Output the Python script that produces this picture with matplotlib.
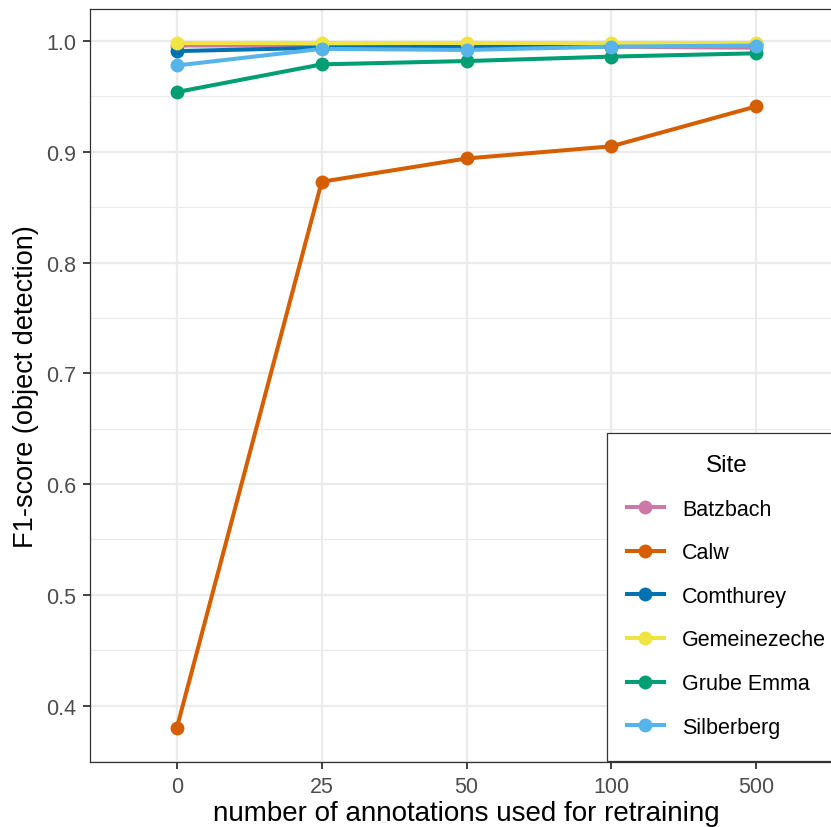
import matplotlib
matplotlib.use("Agg")
import matplotlib.pyplot as plt
from matplotlib.patches import Rectangle
from matplotlib.lines import Line2D
import numpy as np

plt.rcParams["font.family"] = ["Liberation Sans", "DejaVu Sans"]

categories = ["0", "25", "50", "100", "500"]
sites = ["Batzbach", "Calw", "Comthurey", "Gemeinezeche", "Grube Emma", "Silberberg"]
batzbach = [0.996, 0.996, 0.995, 0.995, 0.994]
calw = [0.380, 0.873, 0.894, 0.905, 0.941]
comthurey = [0.991, 0.994, 0.995, 0.996, 0.997]
gemeinezeche = [0.998, 0.998, 0.998, 0.998, 0.998]
grube_emma = [0.954, 0.979, 0.982, 0.986, 0.989]
silberberg = [0.978, 0.993, 0.992, 0.995, 0.996]
colors = ["#CC79A7", "#D55E00", "#0072B2", "#F0E442", "#009E73", "#56B4E9"]
series = [batzbach, calw, comthurey, gemeinezeche, grube_emma, silberberg]

W, H = 831, 828
fig = plt.figure(figsize=(W / 100, H / 100), dpi=100)
L, R, T, B = 90, 843, 10, 763
ax = fig.add_axes([L / W, 1 - B / H, (R - L) / W, (B - T) / H])

x = np.arange(len(categories))
for s, c in zip(series, colors):
    ax.plot(x, s, color=c, lw=2.9, zorder=3, solid_capstyle="butt")
for s, c in zip(series, colors):
    ax.plot(x, s, "o", color=c, ms=10, zorder=4, markeredgewidth=0)

ax.set_xlim(-0.6, 4.6)
ax.set_ylim(0.349, 1.029)
ax.set_xticks(x)
ax.set_xticklabels(categories)
ax.set_yticks([0.4, 0.5, 0.6, 0.7, 0.8, 0.9, 1.0])
ax.set_yticklabels(["0.4", "0.5", "0.6", "0.7", "0.8", "0.9", "1.0"])
ax.set_yticks([0.35, 0.45, 0.55, 0.65, 0.75, 0.85, 0.95], minor=True)
ax.grid(True, which="major", color="#EBEBEB", lw=1.6, zorder=0)
ax.grid(True, which="minor", axis="y", color="#EBEBEB", lw=0.8, zorder=0)
ax.set_axisbelow(True)
for sp in ax.spines.values():
    sp.set_color("#333333")
    sp.set_linewidth(0.9)
ax.tick_params(which="major", length=5, width=1.3, color="#333333",
               labelcolor="#4D4D4D", labelsize=15.5, pad=5)
ax.tick_params(which="minor", length=0)
ax.set_xlabel("number of annotations used for retraining", fontsize=20, color="black", labelpad=2.5)
ax.set_ylabel("F1-score (object detection)", fontsize=19.5, color="black", labelpad=5)

# legend box
lx0, ly0, lx1, ly1 = 607, 434, 843, 762
rect = Rectangle((lx0 / W, 1 - ly1 / H), (lx1 - lx0) / W, (ly1 - ly0) / H,
                 transform=fig.transFigure, facecolor="white", edgecolor="#333333",
                 lw=0.9, zorder=5)
fig.add_artist(rect)
handles = [Line2D([], [], color=c, lw=2.9, marker="o", ms=10, markeredgewidth=0) for c in colors]
leg = fig.legend(handles, sites, loc="upper left",
                 bbox_to_anchor=(612 / W, 1 - 440 / H), bbox_transform=fig.transFigure,
                 frameon=False, title="Site", fontsize=15.5, title_fontsize=17.5,
                 handlelength=1.7, handletextpad=0.85, labelspacing=1.05, borderpad=0.2)
leg.set_zorder(6)

fig.savefig("out.png", dpi=100)
